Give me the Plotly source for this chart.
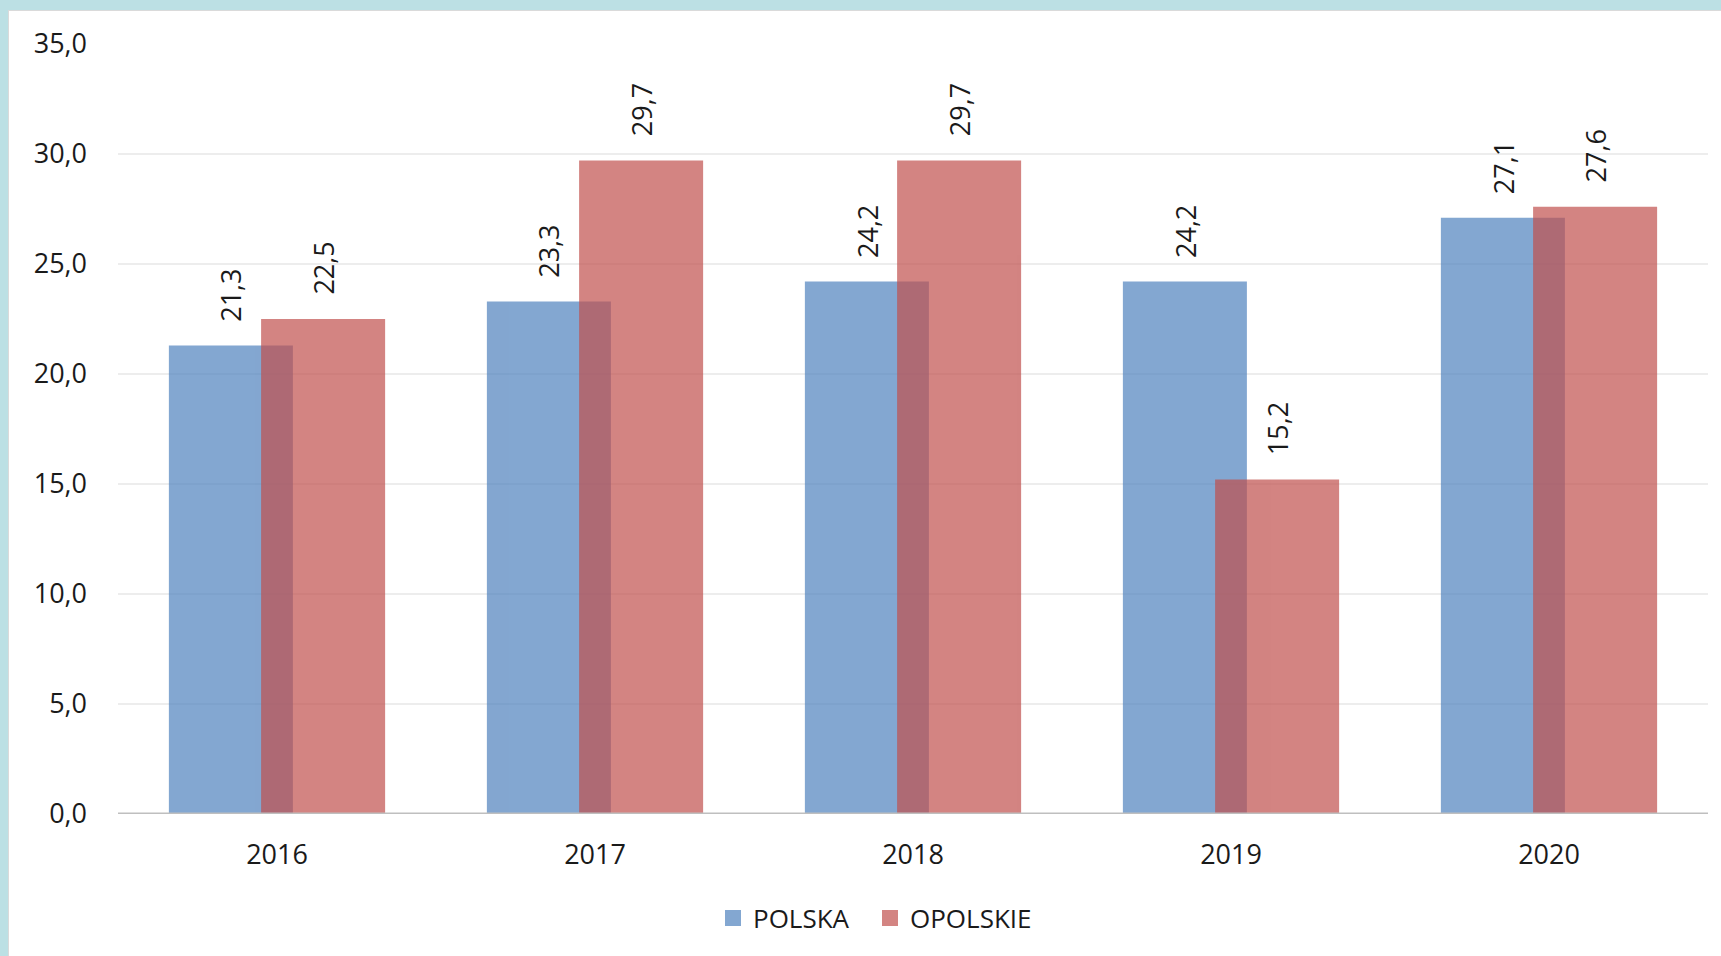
import plotly.graph_objects as go

years = ["2016", "2017", "2018", "2019", "2020"]
polska = [21.3, 23.3, 24.2, 24.2, 27.1]
opolskie = [22.5, 29.7, 29.7, 15.2, 27.6]
y_ticks = [0, 5, 10, 15, 20, 25, 30, 35]
y_tick_labels = ["0,0", "5,0", "10,0", "15,0", "20,0", "25,0", "30,0", "35,0"]

W, H = 1721, 956
ML, MR, MT, MB = 118, 13, 44, 142
PW, PH = W - ML - MR, H - MT - MB

FONT = "Open Sans"
TXT = "#1a1a1a"
BAR_W = 0.39
OFF_BLUE = -0.34
OFF_RED = -0.05
BLUE = "#4F81BD"
RED = "#C0504D"

xs = list(range(len(years)))

fig = go.Figure()
fig.add_trace(go.Bar(
    x=xs, y=polska, name="POLSKA", width=BAR_W, offset=OFF_BLUE,
    marker=dict(color=BLUE, line=dict(width=0)), opacity=0.7, showlegend=False,
))
fig.add_trace(go.Bar(
    x=xs, y=opolskie, name="OPOLSKIE", width=BAR_W, offset=OFF_RED,
    marker=dict(color=RED, line=dict(width=0)), opacity=0.7, showlegend=False,
))
# legend entries with larger square swatches, one legend box each
for name, col, lg in (("POLSKA", BLUE, "legend"), ("OPOLSKIE", RED, "legend2")):
    fig.add_trace(go.Scatter(
        x=[None], y=[None], mode="markers", name=name, legend=lg,
        marker=dict(symbol="square", size=18, color=col, opacity=0.7, line=dict(width=0)),
    ))

def fmt(v):
    return f"{v:.1f}".replace(".", ",")

for series, off in ((polska, OFF_BLUE), (opolskie, OFF_RED)):
    for i, v in enumerate(series):
        fig.add_annotation(
            x=i + off + BAR_W / 2, y=v, xref="x", yref="y",
            text=fmt(v), textangle=-90, showarrow=False,
            yanchor="bottom", xanchor="center", yshift=22,
            font=dict(family=FONT, size=27, color=TXT),
        )

# decorative frame (teal band on top and left)
teal = "#BCE0E4"
fig.add_shape(type="rect", xref="paper", yref="paper",
              x0=-ML / PW, x1=1 + MR / PW, y0=1 + (MT - 10) / PH, y1=1 + MT / PH,
              fillcolor=teal, line=dict(width=0), layer="below")
fig.add_shape(type="rect", xref="paper", yref="paper",
              x0=-ML / PW, x1=-(ML - 8) / PW, y0=-MB / PH, y1=1 + MT / PH,
              fillcolor=teal, line=dict(width=0), layer="below")
fig.add_shape(type="line", xref="paper", yref="paper",
              x0=-(ML - 8) / PW, x1=1 + MR / PW, y0=1 + (MT - 10.5) / PH, y1=1 + (MT - 10.5) / PH,
              line=dict(color="#DADADA", width=1), layer="below")
fig.add_shape(type="line", xref="paper", yref="paper",
              x0=-(ML - 8.5) / PW, x1=-(ML - 8.5) / PW, y0=-MB / PH, y1=1 + (MT - 10) / PH,
              line=dict(color="#DADADA", width=1), layer="below")

LEG_COMMON = dict(orientation="h", xanchor="left", y=-104 / PH, yanchor="middle",
                  itemwidth=30, font=dict(family=FONT, size=26, color=TXT),
                  itemclick=False, bgcolor="rgba(0,0,0,0)")

fig.update_layout(
    width=W, height=H,
    margin=dict(l=ML, r=MR, t=MT, b=MB, pad=0),
    barmode="overlay",
    paper_bgcolor="white", plot_bgcolor="white",
    font=dict(family=FONT, size=27, color=TXT),
    showlegend=True,
    legend=dict(x=(724 - 11 - ML) / PW, **LEG_COMMON),
    legend2=dict(x=(881 - 11 - ML) / PW, **LEG_COMMON),
    xaxis=dict(
        tickvals=xs, ticktext=years, range=[-0.5, len(years) - 0.5],
        showgrid=False, zeroline=False, showline=False, ticks="",
        tickfont=dict(family=FONT, size=27, color=TXT), ticklabelstandoff=22,
    ),
    yaxis=dict(
        range=[0, 35], tickvals=y_ticks, ticktext=y_tick_labels,
        showgrid=True, gridcolor="#EDEDED", gridwidth=2,
        zeroline=False, showline=False, ticks="",
        tickfont=dict(family=FONT, size=27, color=TXT), ticklabelstandoff=30,
    ),
)
fig.add_hline(y=0, line=dict(color="#BFBFBF", width=3))

fig.write_html(
    "out.html",
    config={"displayModeBar": False},
    post_script="document.body.style.margin='0';document.body.style.overflow='hidden';",
)
